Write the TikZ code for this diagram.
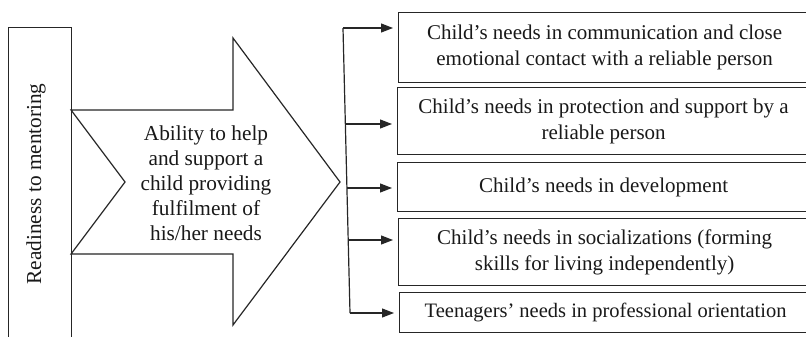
\documentclass[tikz,border=0pt]{standalone}
\usepackage{fontspec}
\setmainfont{Liberation Serif}
\usetikzlibrary{arrows.meta}
\begin{document}
\begin{tikzpicture}[x=1pt,y=-1pt,
  box/.style={draw=black!85, line width=1.2pt, anchor=north west, minimum width=412pt, inner sep=0pt, align=center, font=\fontsize{21}{26}\selectfont, text=black!90},
  lbl/.style={align=center, font=\fontsize{21.3}{25}\selectfont, text=black!90, inner sep=0pt},
  conn/.style={line width=1.2pt, draw=black!85},
  arr/.style={conn, -{Triangle[length=12pt,width=9pt]}, shorten >=5pt}]
\useasboundingbox (0,0) rectangle (806,337);
\clip (0,0) rectangle (806,337);
% left column
\node[draw=black!85, line width=1.2pt, anchor=north west, minimum width=63pt, minimum height=330pt, inner sep=0pt] (ready) at (8,27) {};
\node[lbl, rotate=90] (readytxt) at (36,184) {Readiness to mentoring};
% block arrow
\draw[conn, fill=white] (71,110) -- (233,110) -- (233,38) -- (340,182) -- (233,325) -- (233,254) -- (71,254) -- (125,182) -- cycle;
\node[lbl] (ability) at (206,183) {Ability to help\\and support a\\child providing\\fulfilment of\\his/her needs};
% boxes
\node[box, minimum height=70pt] (b1) at (398,12) {Child’s needs in communication and close\\emotional contact with a reliable person};
\node[box, minimum height=67pt] (b2) at (397,87) {Child’s needs in protection and support by a\\reliable person};
\node[box, minimum height=49pt] (b3) at (397,162) {Child’s needs in development};
\node[box, minimum height=67pt] (b4) at (398,218) {Child’s needs in socializations (forming\\skills for living independently)};
\node[box, minimum height=40pt, font=\fontsize{20.5}{26}\selectfont] (b5) at (399,292) {Teenagers’ needs in professional orientation};
% distributor line
\coordinate (p1) at (343,28);
\coordinate (p2) at (345.4,124);
\coordinate (p3) at (346.9,188);
\coordinate (p4) at (348.2,240);
\coordinate (p5) at (350,313);
\draw[conn] (p1) -- (p5);
\draw[arr] (p1) -- (p1 -| b1.west);
\draw[arr] (p2) -- (p2 -| b2.west);
\draw[arr] (p3) -- (p3 -| b3.west);
\draw[arr] (p4) -- (p4 -| b4.west);
\draw[arr] (p5) -- (p5 -| b5.west);
\end{tikzpicture}
\end{document}
